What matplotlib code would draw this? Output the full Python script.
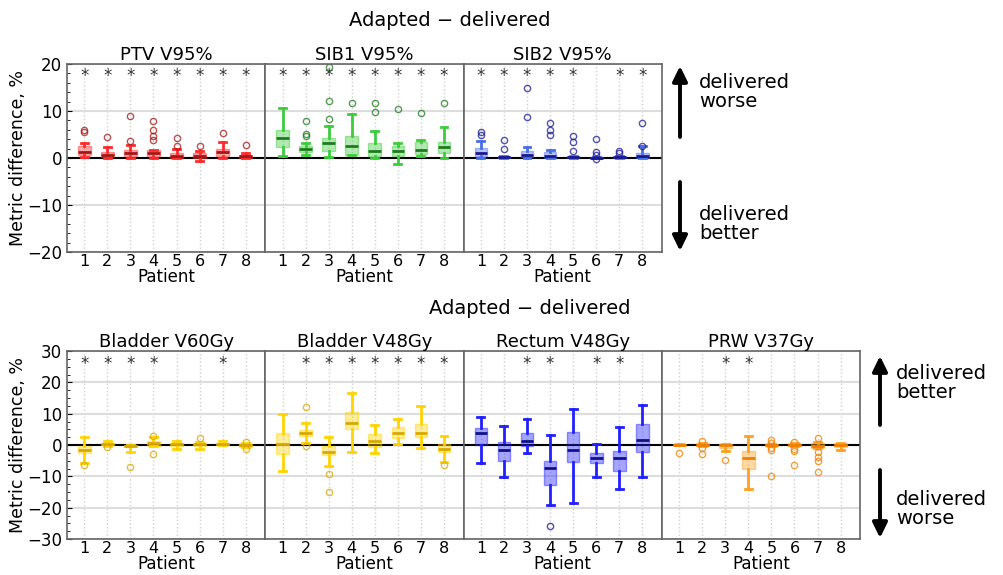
import matplotlib
matplotlib.use('Agg')
import matplotlib.pyplot as plt
from matplotlib.patches import FancyArrowPatch
from matplotlib.ticker import MultipleLocator
from matplotlib.colors import to_rgba

# ─── Data (box summaries) ────────────────────────────────────────────
patients = [1, 2, 3, 4, 5, 6, 7, 8]

# PTV V95%
ptv_q1 = [0.6, 0.15, 0.35, 0.35, 0.1, 0.0, 0.5, 0.0]
ptv_med = [1.2, 0.6, 1.0, 1.0, 0.5, 0.5, 1.2, 0.35]
ptv_q3 = [2.5, 1.2, 1.6, 1.7, 1.0, 1.0, 1.9, 0.7]
ptv_lo = [0.15, 0.0, 0.0, 0.0, 0.0, -0.6, 0.0, 0.0]
ptv_hi = [3.1, 2.3, 2.8, 1.8, 1.9, 1.4, 3.3, 1.0]
ptv_fl = [[6.0, 5.6], [4.4], [8.9, 3.7], [7.9, 6.0, 4.6, 3.8], [4.3, 2.5], [2.5], [5.3], [2.8]]
ptv_sig = [1, 2, 3, 4, 5, 6, 7, 8]

# SIB1 V95%
sib1_q1 = [2.3, 1.2, 1.4, 0.7, 0.5, 0.5, 0.85, 1.1]
sib1_med = [4.3, 1.9, 3.2, 2.6, 1.5, 1.5, 1.8, 2.3]
sib1_q3 = [6.0, 2.6, 4.3, 4.7, 3.1, 2.5, 3.3, 3.5]
sib1_lo = [0.5, 0.6, 0.3, 0.6, 0.1, -1.3, 0.35, 0.1]
sib1_hi = [10.6, 3.2, 6.9, 9.3, 5.7, 3.2, 3.9, 6.5]
sib1_fl = [[], [7.9, 5.2, 4.6], [19.4, 12.1, 8.3], [11.8], [11.8, 9.7], [10.4], [9.6], [11.6]]
sib1_sig = [1, 2, 3, 4, 5, 6, 7, 8]

# SIB2 V95%
sib2_q1 = [0.35, 0.0, 0.15, 0.0, 0.0, 0.0, 0.0, 0.0]
sib2_med = [1.1, 0.2, 0.65, 0.5, 0.2, 0.05, 0.15, 0.35]
sib2_q3 = [2.1, 0.5, 1.5, 1.35, 0.5, 0.2, 0.35, 1.0]
sib2_lo = [0.0, 0.0, 0.0, 0.0, 0.0, 0.0, 0.0, 0.0]
sib2_hi = [3.7, 0.5, 2.3, 1.8, 0.5, 0.2, 0.35, 2.5]
sib2_fl = [[5.5, 5.0], [3.8, 1.9], [14.9, 8.8], [7.4, 6.0, 5.0], [4.6, 3.4, 1.5],
           [4.1, 1.2, 0.7, -0.2], [1.5, 1.1], [7.4, 2.5]]
sib2_sig = [1, 2, 3, 4, 5, 7, 8]

# Bladder V60Gy
bl60_q1 = [-2.4, -0.1, -0.7, -0.3, -0.3, -0.3, 0.0, -0.5]
bl60_med = [-1.5, 0.4, -0.4, 0.6, 0.2, 0.3, 0.4, 0.0]
bl60_q3 = [-0.2, 0.7, 0.1, 1.3, 0.5, 0.7, 0.7, 0.5]
bl60_lo = [-5.7, -0.3, -2.2, -0.3, -1.3, -1.2, 0.0, -0.5]
bl60_hi = [2.4, 1.2, 0.1, 2.5, 1.2, 1.1, 1.2, 0.5]
bl60_fl = [[-6.5], [-0.7], [-7.1], [3.0, -2.9], [], [2.1], [], [1.1, -1.4]]
bl60_sig = [1, 2, 3, 4, 7]

# Bladder V48Gy
bl48_q1 = [-2.8, 2.9, -3.3, 5.2, -0.7, 2.1, 2.5, -2.1]
bl48_med = [0.2, 3.7, -2.1, 6.9, 1.3, 3.9, 3.9, -1.2]
bl48_q3 = [3.9, 4.9, -0.4, 10.5, 3.6, 5.9, 6.6, 0.3]
bl48_lo = [-8.3, 0.6, -6.7, -2.2, -2.5, 0.3, -1.0, -5.4]
bl48_hi = [10.0, 7.0, 2.4, 16.6, 6.3, 8.2, 12.3, 2.8]
bl48_fl = [[], [12.1, -0.3], [-9.1, -15.1], [], [], [], [], [-6.4]]
bl48_sig = [2, 3, 4, 5, 6, 7, 8]

# Rectum V48Gy
rec_q1 = [0.0, -5.1, -0.2, -12.7, -5.3, -5.8, -8.2, -2.3]
rec_med = [3.7, -1.7, 1.3, -7.4, -1.5, -4.2, -4.0, 1.5]
rec_q3 = [5.5, 1.0, 3.7, -5.0, 4.0, -2.4, -2.0, 6.8]
rec_lo = [-5.9, -10.2, -2.5, -19.3, -18.5, -10.2, -14.2, -10.2]
rec_hi = [8.8, 6.0, 8.4, 3.2, 11.5, 0.3, 5.9, 12.7]
rec_fl = [[], [], [], [-26.0], [], [], [], []]
rec_sig = [3, 4, 6, 7]

# PRW V37Gy
prw_q1 = [-0.1, -0.2, -0.8, -7.6, -0.2, -0.3, -0.8, -0.7]
prw_med = [0.1, 0.1, 0.0, -4.3, 0.0, 0.1, -0.2, -0.1]
prw_q3 = [0.3, 0.5, 0.2, -1.9, 0.3, 0.5, 0.5, 0.5]
prw_lo = [-0.1, -0.2, -1.8, -14.0, -0.2, -0.3, -0.8, -1.6]
prw_hi = [0.3, 0.7, 0.2, 2.8, 0.3, 0.5, 0.8, 0.5]
prw_fl = [[-2.7], [1.3, -0.8, -2.8], [-4.8], [], [1.5, 0.7, -1.1, -1.7, -10.0],
          [1.0, -1.4, -2.0, -6.5], [2.1, -2.1, -3.8, -5.1, -8.7], []]
prw_sig = [3, 4]

plt.rcParams.update({
    'font.family': 'DejaVu Sans',
    'font.size': 12,
})


def draw_panel(ax, title, q1, med, q3, lo, hi, fl, sig, color, dark, star_y):
    stats = [dict(q1=a, med=m, q3=b, whislo=l, whishi=h, fliers=f)
             for a, m, b, l, h, f in zip(q1, med, q3, lo, hi, fl)]
    ax.bxp(stats, positions=patients, widths=0.55, patch_artist=True,
           capwidths=0.3,
           boxprops=dict(facecolor=to_rgba(color, 0.4), edgecolor=to_rgba(color, 0.45), linewidth=1),
           whiskerprops=dict(color=color, linewidth=2),
           capprops=dict(color=color, linewidth=2),
           medianprops=dict(color=dark, linewidth=2),
           flierprops=dict(marker='o', markerfacecolor='none',
                           markeredgecolor=to_rgba(dark, 0.75), markersize=4.5, markeredgewidth=1))
    ax.axhline(0, color='black', linewidth=1.5, zorder=1.5)
    for p in sig:
        ax.text(p, star_y, '*', ha='center', va='center', fontsize=12, color='#333333')
    ax.set_title(title, fontsize=13, pad=3)
    ax.set_xlim(0.25, 8.85)
    ax.set_xticks(patients)
    ax.set_xticklabels([str(p) for p in patients], fontsize=11.5)
    ax.set_xlabel('Patient', fontsize=12, labelpad=-1)
    ax.grid(axis='y', color='#dddddd', linewidth=1.5)
    ax.grid(axis='x', color='#d0d0d0', linestyle=':', linewidth=1)
    ax.set_axisbelow(True)
    ax.tick_params(axis='x', length=0, pad=1.5)
    for s in ax.spines.values():
        s.set_color('#666666')
        s.set_linewidth(1.2)


fig = plt.figure(figsize=(10.04, 5.75), dpi=100)
W, H = 1004, 575

# ─── Top row ───────────────────────────────────────────────────────
top = [
    ('PTV V95%', ptv_q1, ptv_med, ptv_q3, ptv_lo, ptv_hi, ptv_fl, ptv_sig, '#ff2a2a', '#a01818'),
    ('SIB1 V95%', sib1_q1, sib1_med, sib1_q3, sib1_lo, sib1_hi, sib1_fl, sib1_sig, '#3ccc3c', '#1f7a1f'),
    ('SIB2 V95%', sib2_q1, sib2_med, sib2_q3, sib2_lo, sib2_hi, sib2_fl, sib2_sig, '#4a6ee8', '#1a1a90'),
]
pw = 198.3 / W
for i, row in enumerate(top):
    ax = fig.add_axes([67 / W + i * pw, 1 - 252 / H, pw, 188 / H])
    draw_panel(ax, *row, star_y=17.5)
    ax.set_ylim(-20, 20)
    ax.set_yticks([-20, -10, 0, 10, 20])
    ax.yaxis.set_minor_locator(MultipleLocator(2))
    if i == 0:
        ax.tick_params(axis='y', which='both', direction='in', labelsize=12)
        ax.tick_params(axis='y', which='minor', length=2.5)
        ax.set_ylabel('Metric difference, %', fontsize=12.5, labelpad=0)
    else:
        ax.tick_params(axis='y', which='both', left=False, labelleft=False)

# ─── Bottom row ────────────────────────────────────────────────────
bottom = [
    ('Bladder V60Gy', bl60_q1, bl60_med, bl60_q3, bl60_lo, bl60_hi, bl60_fl, bl60_sig, '#ffd400', '#d9a800'),
    ('Bladder V48Gy', bl48_q1, bl48_med, bl48_q3, bl48_lo, bl48_hi, bl48_fl, bl48_sig, '#ffd400', '#d9a800'),
    ('Rectum V48Gy', rec_q1, rec_med, rec_q3, rec_lo, rec_hi, rec_fl, rec_sig, '#2020ff', '#10108a'),
    ('PRW V37Gy', prw_q1, prw_med, prw_q3, prw_lo, prw_hi, prw_fl, prw_sig, '#ffa020', '#f08000'),
]
for i, row in enumerate(bottom):
    ax = fig.add_axes([67 / W + i * pw, 1 - 539 / H, pw, 188 / H])
    draw_panel(ax, *row, star_y=26)
    ax.set_ylim(-30, 30)
    ax.set_yticks([-30, -20, -10, 0, 10, 20, 30])
    ax.yaxis.set_minor_locator(MultipleLocator(2.5))
    if i == 0:
        ax.tick_params(axis='y', which='both', direction='in', labelsize=12)
        ax.tick_params(axis='y', which='minor', length=2.5)
        ax.set_ylabel('Metric difference, %', fontsize=12.5, labelpad=0)
    else:
        ax.tick_params(axis='y', which='both', left=False, labelleft=False)

fig.text(450 / W, 1 - 20 / H, 'Adapted \u2212 delivered', ha='center', va='center', fontsize=14)
fig.text(530 / W, 1 - 309 / H, 'Adapted \u2212 delivered', ha='center', va='center', fontsize=14)


def arrow(x, y0, y1):
    fig.add_artist(FancyArrowPatch((x / W, 1 - y0 / H), (x / W, 1 - y1 / H),
                                   transform=fig.transFigure,
                                   arrowstyle='-|>,head_width=0.22,head_length=0.45',
                                   mutation_scale=20, color='black', linewidth=2.8,
                                   shrinkA=0, shrinkB=0))


arrow(680, 137, 66)
arrow(680, 182, 251)
fig.text(699 / W, 1 - 92 / H, 'delivered\nworse', ha='left', va='center', fontsize=14, linespacing=0.95)
fig.text(699 / W, 1 - 224 / H, 'delivered\nbetter', ha='left', va='center', fontsize=14, linespacing=0.95)

arrow(880, 425, 356)
arrow(880, 470, 538)
fig.text(896 / W, 1 - 383 / H, 'delivered\nbetter', ha='left', va='center', fontsize=14, linespacing=0.95)
fig.text(896 / W, 1 - 509 / H, 'delivered\nworse', ha='left', va='center', fontsize=14, linespacing=0.95)

fig.savefig('out.png', dpi=100, facecolor='white')
